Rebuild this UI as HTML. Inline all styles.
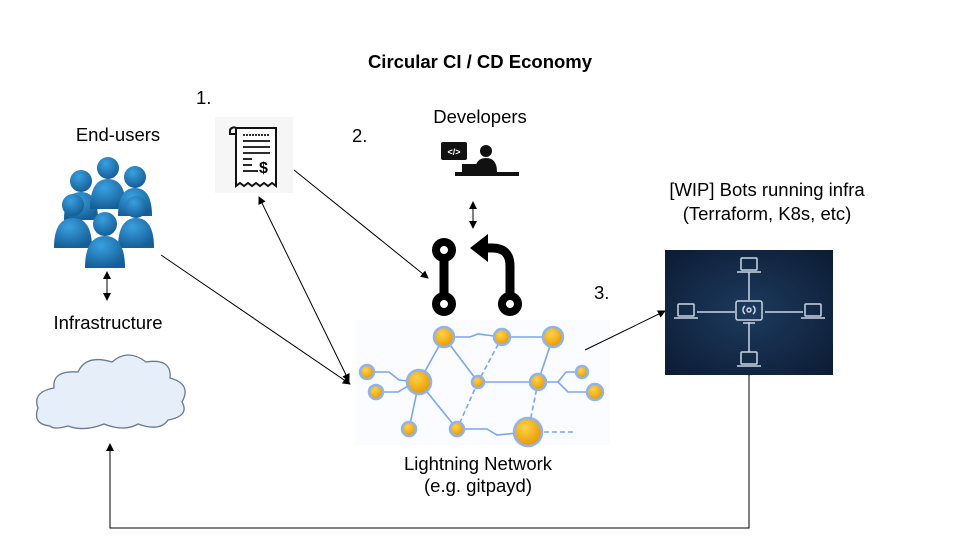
<!DOCTYPE html>
<html><head><style>
body{margin:0;background:#fff;}
svg{display:block;font-family:"Liberation Sans",sans-serif;}
</style></head><body>
<svg width="960" height="540" viewBox="0 0 960 540">
<defs>
<marker id="a" markerWidth="8" markerHeight="8" refX="7" refY="4" orient="auto-start-reverse" markerUnits="userSpaceOnUse"><path d="M0,0 L8,4 L0,8 z" fill="#000"/></marker>
<radialGradient id="coin" cx="40%" cy="35%" r="65%"><stop offset="0" stop-color="#ffd24a"/><stop offset="1" stop-color="#e89a00"/></radialGradient>
<radialGradient id="bg" cx="50%" cy="50%" r="70%"><stop offset="0" stop-color="#1d3a5e"/><stop offset="1" stop-color="#0c1c33"/></radialGradient>
<radialGradient id="person" cx="40%" cy="30%" r="70%"><stop offset="0" stop-color="#3aa0e0"/><stop offset="1" stop-color="#155f98"/></radialGradient>
</defs>
<g font-size="18.5">
<text x="480" y="68" font-weight="bold" text-anchor="middle">Circular CI / CD Economy</text>
<text x="196" y="104">1.</text>
<text x="352" y="142">2.</text>
<text x="594" y="299">3.</text>
<text x="118" y="141" text-anchor="middle">End-users</text>
<text x="480" y="123" text-anchor="middle">Developers</text>
<text x="108" y="329" text-anchor="middle">Infrastructure</text>
<text x="767" y="196" text-anchor="middle">[WIP] Bots running infra</text>
<text x="767" y="220" text-anchor="middle">(Terraform, K8s, etc)</text>
<text x="478" y="470" text-anchor="middle">Lightning Network</text>
<text x="478" y="492" text-anchor="middle">(e.g. gitpayd)</text>
</g>

<!-- receipt -->
<rect x="215" y="117" width="78" height="76" fill="#f6f6f6"/>
<path d="M236,128 h40 v58 l-4,-3 -4,3 -4,-3 -4,3 -4,-3 -4,3 -4,-3 -4,3 -4,-3 -4,3 z" fill="#fff" stroke="#111" stroke-width="2"/>
<path d="M232,128 a4,4 0 0 1 4,0 v6 h-6 v-3 a3,3 0 0 1 2,-3z" fill="none" stroke="#111" stroke-width="2"/>
<g stroke="#111" stroke-width="1.8"><line x1="243" y1="135" x2="270" y2="135" stroke-dasharray="2,1"/><line x1="243" y1="141" x2="270" y2="141"/><line x1="243" y1="147" x2="270" y2="147"/><line x1="243" y1="153" x2="270" y2="153"/><line x1="243" y1="159" x2="252" y2="159"/><line x1="243" y1="165" x2="252" y2="165"/><line x1="243" y1="171" x2="258" y2="171"/></g>
<text x="259" y="173" font-size="16" font-weight="bold">$</text>

<!-- people -->
<g fill="url(#person)">
<g transform="translate(64,168)"><circle cx="17" cy="13" r="11"/><path d="M0,52 q0,-28 17,-28 q17,0 17,28z"/></g>
<g transform="translate(90,155)"><circle cx="18" cy="13" r="11"/><path d="M0,54 q0,-30 18,-30 q18,0 18,30z"/></g>
<g transform="translate(118,164)"><circle cx="17" cy="13" r="11"/><path d="M0,52 q0,-28 17,-28 q17,0 17,28z"/></g>
<g transform="translate(54,192)"><circle cx="19" cy="13" r="11"/><path d="M0,56 q0,-30 19,-30 q19,0 19,30z"/></g>
<g transform="translate(118,194)"><circle cx="18" cy="13" r="11"/><path d="M0,54 q0,-30 18,-30 q18,0 18,30z"/></g>
<g transform="translate(85,210)"><circle cx="20" cy="14" r="12"/><path d="M0,58 q0,-32 20,-32 q20,0 20,32z"/></g>
</g>

<!-- developer icon -->
<g fill="#111">
<rect x="441" y="142" width="26" height="18" rx="2"/>
<text x="454" y="155" font-size="9" fill="#fff" text-anchor="middle" font-weight="bold">&lt;/&gt;</text>
<circle cx="486" cy="151" r="6"/>
<path d="M475,172 q0,-14 11,-14 q11,0 11,14z"/>
<rect x="455" y="172" width="64" height="4"/>
<rect x="462" y="164" width="16" height="8"/>
</g>

<!-- cloud -->
<g transform="translate(0,6)">
<path d="M50,420 q-18,-2 -12,-18 q-6,-16 16,-20 q-2,-18 24,-16 q8,-18 34,-10 q16,-14 34,0 q26,-4 24,16 q22,6 12,24 q8,14 -14,18 q-8,12 -30,4 q-14,8 -34,0 q-20,8 -36,2 q-14,4 -18,0z" fill="#e6eef9" stroke="#6a7a8c" stroke-width="1.3"/>
</g>

<!-- git icon -->
<g stroke="#000" stroke-width="9" fill="none" stroke-linecap="round">
<line x1="444" y1="252" x2="444" y2="296"/>
<path d="M510,296 V266 q0,-18 -18,-18 H478"/>
</g>
<path d="M470,248 l18,-14 v28z" fill="#000"/>
<g fill="#fff" stroke="#000" stroke-width="8"><circle cx="444" cy="250" r="8"/><circle cx="444" cy="304" r="8"/><circle cx="510" cy="304" r="8"/></g>

<!-- lightning network -->
<rect x="355" y="320" width="255" height="125" fill="#fafcff"/>
<g stroke="#7aa6f0" stroke-width="1.6" fill="none">
<path d="M444,337 L419,382 M444,337 L478,382 M444,337 H470 l8,-3 L502,337 h20 l8,0 L553,337 M553,337 L538,382 M367,372 h22 l10,8 L419,382 M376,392 h22 l10,-6 L419,382 M419,382 L409,429 M419,382 L457,429 M478,382 H538 M538,382 h20 l8,-10 L582,372 M538,382 h20 l10,10 L595,392 M457,429 h30 l10,6 L528,432"/>
<path d="M502,337 L478,382 M478,382 L457,429 M538,382 L528,432 M528,432 H576" stroke-dasharray="5,3"/>
</g>
<g stroke="#8db3f3" stroke-width="2.5" fill="url(#coin)">
<circle cx="444" cy="337" r="10"/><circle cx="502" cy="337" r="8"/><circle cx="553" cy="337" r="10"/>
<circle cx="367" cy="372" r="7"/><circle cx="419" cy="382" r="12"/><circle cx="376" cy="392" r="7"/>
<circle cx="478" cy="382" r="6"/><circle cx="538" cy="382" r="8"/><circle cx="582" cy="372" r="6"/>
<circle cx="595" cy="392" r="8"/><circle cx="409" cy="429" r="7"/><circle cx="457" cy="429" r="7"/>
<circle cx="528" cy="432" r="14"/>
</g>

<!-- bots box -->
<rect x="665" y="250" width="168" height="125" fill="url(#bg)"/>
<g stroke="#c9d6e6" stroke-width="1.5" fill="none">
<line x1="749" y1="272" x2="749" y2="300"/><line x1="749" y1="322" x2="749" y2="352"/>
<line x1="697" y1="312" x2="735" y2="312"/><line x1="765" y1="312" x2="803" y2="312"/>
<rect x="741" y="258" width="16" height="12" rx="1"/><line x1="737" y1="272" x2="761" y2="272"/>
<rect x="741" y="352" width="16" height="12" rx="1"/><line x1="737" y1="366" x2="761" y2="366"/>
<rect x="678" y="304" width="16" height="12" rx="1"/><line x1="674" y1="318" x2="698" y2="318"/>
<rect x="805" y="304" width="16" height="12" rx="1"/><line x1="801" y1="318" x2="825" y2="318"/>
<rect x="736" y="301" width="26" height="19" rx="2"/><line x1="743" y1="323" x2="755" y2="323"/>
<circle cx="749" cy="310" r="2"/><path d="M745,306 a5,5 0 0 0 0,8 M753,306 a5,5 0 0 1 0,8"/>
</g>

<!-- connectors -->
<g stroke="#000" stroke-width="1" fill="none">
<line x1="107" y1="272" x2="107" y2="300" marker-start="url(#a)" marker-end="url(#a)"/>
<line x1="161" y1="255" x2="350" y2="384" marker-end="url(#a)"/>
<line x1="259" y1="197" x2="349" y2="381" marker-start="url(#a)" marker-end="url(#a)"/>
<line x1="294" y1="170" x2="428" y2="278" marker-end="url(#a)"/>
<line x1="473" y1="202" x2="473" y2="228" marker-start="url(#a)" marker-end="url(#a)"/>
<line x1="585" y1="350" x2="665" y2="311" marker-end="url(#a)"/>
<polyline points="749,375 749,528 110,528 110,444" marker-end="url(#a)"/>
</g>
</svg>
</body></html>
